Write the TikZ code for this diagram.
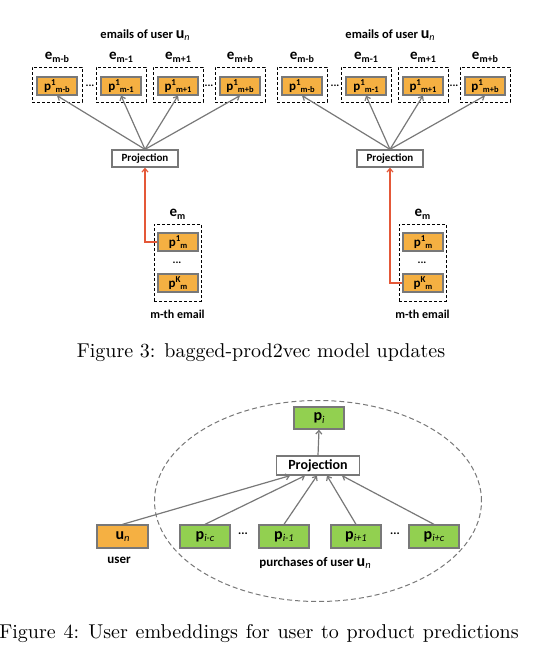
\documentclass[tikz,border=0pt]{standalone}
\usepackage{fontspec}
\usepackage{tikz}
\usetikzlibrary{arrows.meta, positioning, shapes.geometric, fit}
\newfontfamily\calfont{Carlito}
\definecolor{boxorange}{RGB}{245,176,66}
\definecolor{boxgreen}{RGB}{146,208,80}
\definecolor{linegray}{RGB}{120,120,120}
\definecolor{arrowred}{RGB}{228,88,56}
\newcommand{\fs}[1]{\fontsize{#1}{#1}\selectfont}
\newcommand{\lowidx}[2]{\raisebox{-0.35ex}{\fs{#1}#2}}
\newcommand{\highidx}[2]{\raisebox{0.85ex}{\fs{#1}#2}}
\newcommand{\pvec}[2]{\fs{13}p\highidx{9}{#1}\lowidx{8.5}{#2}}
\newcommand{\evec}[1]{\fs{15}e\lowidx{10}{#1}}
\newcommand{\gvec}[1]{\fs{16}p\lowidx{10.5}{\mdseries\itshape #1}}

\begin{document}
\begin{tikzpicture}[
    x=1pt, y=-1pt,
    every node/.style={font=\calfont\bfseries},
    emailbox/.style={
        draw,
        densely dashed,
        line width=0.7pt,
        minimum width=50pt,
        minimum height=35pt,
        inner sep=0pt
    },
    elabel/.style={font=\calfont\bfseries, inner sep=1pt, label distance=3pt},
    prodbox/.style={
        draw=linegray,
        line width=1.3pt,
        fill=boxorange,
        minimum width=40pt,
        minimum height=18pt,
        inner sep=0pt
    },
    itembox/.style={prodbox, fill=boxgreen, minimum width=50pt, minimum height=23pt},
    projbox/.style={
        draw=linegray,
        line width=1.3pt,
        fill=white,
        minimum width=66pt,
        minimum height=17pt,
        inner sep=0pt,
        font=\calfont\bfseries\fs{11}
    },
    arrow/.style={-{Straight Barb[length=3.5pt, width=6pt]}, line width=1.2pt, draw=linegray},
    redarrow/.style={arrow, draw=arrowred},
    caption/.style={font=\normalfont\normalsize}
]
\useasboundingbox (0,0) rectangle (556,664);

% Figure 3, left half
\node (ltitle) at (145,35) {\fs{12.5}emails of user \fs{16}u\lowidx{10}{\mdseries\itshape n}};

\node[emailbox, label={[elabel]above:\evec{m-b}}] (lemb) at (57,84.5) {};
\node[emailbox, label={[elabel]above:\evec{m-1}}] (lem1) at (121,84.5) {};
\node[emailbox, label={[elabel]above:\evec{m+1}}] (lemp1) at (178,84.5) {};
\node[emailbox, label={[elabel]above:\evec{m+b}}] (lempb) at (240,84.5) {};

\node[prodbox] (lpmb) at (57,86) {\pvec{1}{m-b}};
\node[prodbox] (lpm1) at (121,86) {\pvec{1}{m-1}};
\node[prodbox] (lpmp1) at (178,86) {\pvec{1}{m+1}};
\node[prodbox] (lpmpb) at (240,86) {\pvec{1}{m+b}};

\node (ldots1) at (90,86) {\fs{11}...};
\node (ldots2) at (209,86) {\fs{11}...};

\node[projbox] (lproj) at (145,158.5) {Projection};

\node[emailbox, minimum width=47pt, minimum height=77pt,
      label={[elabel]above:\evec{m}},
      label={[elabel, yshift=-5pt]below:\fs{12}m-th email}] (lem) at (177.5,262.5) {};
\node[prodbox] (lp1m) at (178,242) {\pvec{1}{m}};
\node (ldotsm) at (177,263) {\fs{11}...};
\node[prodbox] (lpKm) at (178,283) {\pvec{K}{m}};

\draw[arrow] (lproj.north) -- (lpmb.south);
\draw[arrow] (lproj.north) -- (lpm1.south);
\draw[arrow] (lproj.north) -- (lpmp1.south);
\draw[arrow] (lproj.north) -- (lpmpb.south);
\draw[redarrow] (lp1m.west) -| (lproj.south);

% Figure 3, right half
\node (rtitle) at (390,35) {\fs{12.5}emails of user \fs{16}u\lowidx{10}{\mdseries\itshape n}};

\node[emailbox, label={[elabel]above:\evec{m-b}}] (remb) at (302,84.5) {};
\node[emailbox, label={[elabel]above:\evec{m-1}}] (rem1) at (366,84.5) {};
\node[emailbox, label={[elabel]above:\evec{m+1}}] (remp1) at (423,84.5) {};
\node[emailbox, label={[elabel]above:\evec{m+b}}] (rempb) at (485,84.5) {};

\node[prodbox] (rpmb) at (302,86) {\pvec{1}{m-b}};
\node[prodbox] (rpm1) at (366,86) {\pvec{1}{m-1}};
\node[prodbox] (rpmp1) at (423,86) {\pvec{1}{m+1}};
\node[prodbox] (rpmpb) at (485,86) {\pvec{1}{m+b}};

\node (rdots1) at (335,86) {\fs{11}...};
\node (rdots2) at (454,86) {\fs{11}...};

\node[projbox] (rproj) at (390,158.5) {Projection};

\node[emailbox, minimum width=47pt, minimum height=77pt,
      label={[elabel]above:\evec{m}},
      label={[elabel, yshift=-5pt]below:\fs{12}m-th email}] (rem) at (422.5,262.5) {};
\node[prodbox] (rp1m) at (423,242) {\pvec{1}{m}};
\node (rdotsm) at (422,263) {\fs{11}...};
\node[prodbox] (rpKm) at (423,283) {\pvec{K}{m}};

\draw[arrow] (rproj.north) -- (rpmb.south);
\draw[arrow] (rproj.north) -- (rpm1.south);
\draw[arrow] (rproj.north) -- (rpmp1.south);
\draw[arrow] (rproj.north) -- (rpmpb.south);
\draw[redarrow] (rpKm.west) -| (rproj.south);

\node[caption] (cap3) at (261,353) {\scalebox{2}{Figure 3: bagged-prod2vec model updates}};

% Figure 4
\node[ellipse, draw=linegray, line width=1pt, dash pattern=on 5pt off 3pt,
      minimum width=327pt, minimum height=201pt, inner sep=0pt] (window) at (318,501) {};

\node[itembox, minimum height=22pt] (pi) at (319,418) {\gvec{i}};
\node[projbox, minimum width=83pt, minimum height=19pt, font=\calfont\bfseries\fs{14}] (proj) at (318,465.5) {Projection};

\node[prodbox, minimum width=51pt, minimum height=23pt] (un) at (122.5,536.5) {\fs{16}u\lowidx{10.5}{\mdseries\itshape n}};
\node[itembox] (pic) at (205,536.5) {\gvec{i-c}};
\node[itembox] (pim1) at (284,536.5) {\gvec{i-1}};
\node[itembox] (pip1) at (356,536.5) {\gvec{i+1}};
\node[itembox] (pipc) at (434,536.5) {\gvec{i+c}};

\node (dots1) at (243,534) {\fs{12}...};
\node (dots2) at (395,534) {\fs{12}...};

\node (userlab) at (119,560) {\fs{13}user};
\node (purchlab) at (315,563) {\fs{13}purchases of user \fs{16}u\lowidx{10.5}{\mdseries\itshape n}};

\draw[arrow] (proj.north) -- (pi.south);
\draw[arrow] (un.north) -- ([xshift=-28]proj.south);
\draw[arrow] (pic.north) -- ([xshift=-13]proj.south);
\draw[arrow] (pim1.north) -- ([xshift=-1]proj.south);
\draw[arrow] (pip1.north) -- ([xshift=9]proj.south);
\draw[arrow] (pipc.north) -- ([xshift=24]proj.south);

\node[caption] (cap4) at (259,634) {\scalebox{2}{\spaceskip=3.9pt\xspaceskip=4.6pt Figure 4: User embeddings for user to product predictions}};

\end{tikzpicture}
\end{document}
